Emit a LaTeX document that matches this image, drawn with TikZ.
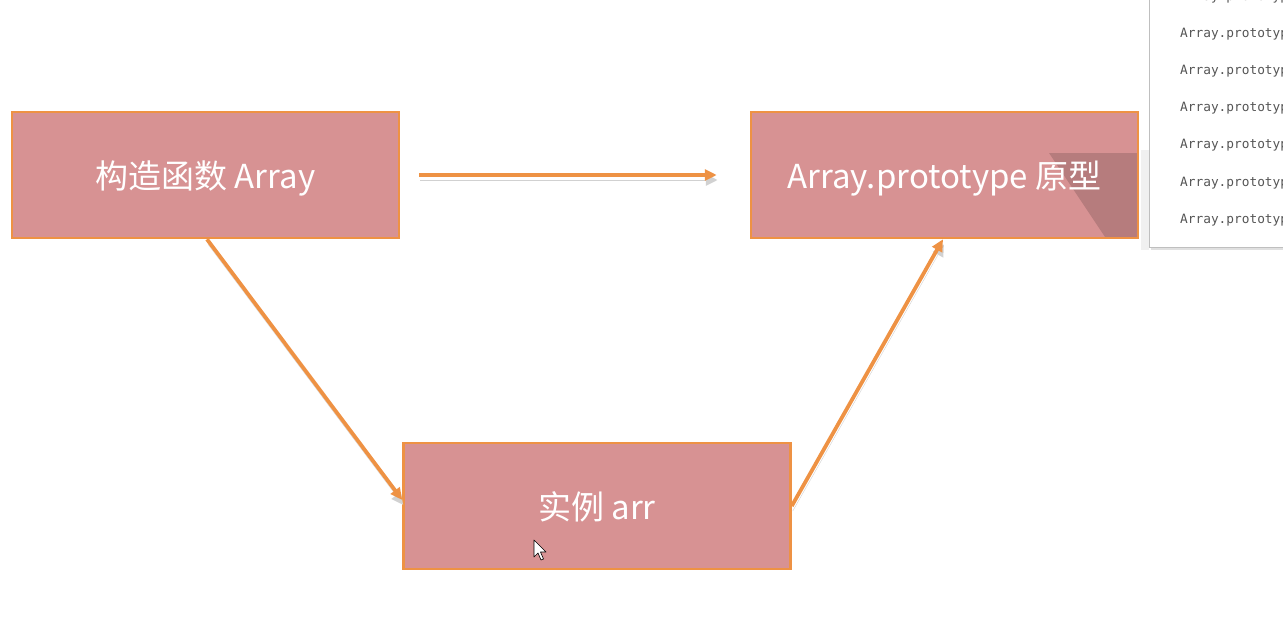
\documentclass[tikz,border=0pt]{standalone}
\usepackage{fontspec}
\newfontfamily\cjk{Noto Sans CJK SC}
\newfontfamily\kode{DejaVu Sans Mono}
\usetikzlibrary{arrows.meta}

\definecolor{kotak}{HTML}{D79293}
\definecolor{jingga}{HTML}{EE9244}
\definecolor{teksabu}{HTML}{555555}

\tikzset{
  kotak/.style={draw=jingga, fill=kotak, line width=2.5pt, minimum width=387pt,
    minimum height=126pt, inner sep=0pt, text=white, text depth=0pt,
    font=\cjk\fontsize{33}{38}\selectfont},
  panah/.style={draw=jingga, line width=3.8pt,
    -{Triangle[length=12pt,width=11pt]},
    preaction={draw=black!18, transform canvas={shift={(1pt,-5pt)}}}},
  kodebaris/.style={anchor=west, inner sep=0pt, text=teksabu,
    font=\kode\fontsize{12.8}{14}\selectfont}
}

\begin{document}
\begin{tikzpicture}[x=1pt, y=-1pt]
\useasboundingbox (0,0) rectangle (1283,632);
\clip (0,0) rectangle (1283,632);

% kotak-kotak
\node[kotak] (konstruktor) at (205.5,175) {构造函数 Array};
\node[kotak, path picture={
    % bayangan jendela di atas kotak prototype
    \fill[black, opacity=0.15]
      ([xshift=-89pt,yshift=-41pt]path picture bounding box.north east)
      -- ([xshift=6pt,yshift=-41pt]path picture bounding box.north east)
      -- ([xshift=6pt,yshift=-134pt]path picture bounding box.north east)
      -- ([xshift=-27pt,yshift=-134pt]path picture bounding box.north east) -- cycle;
  }] (proto) at (944.5,175) {Array.prototype 原型};
\node[kotak] (instans) at (597,506) {实例 arr};
\fill[black, opacity=0.06] (1141,150) rectangle (1149,250);

% panah
\draw[panah] ([xshift=19pt]konstruktor.east) -- ([xshift=-33pt]proto.west);
\draw[panah] ([xshift=1.5pt]konstruktor.south) -- ([yshift=6pt]instans.west);
\draw[panah] (instans.east) -- ([xshift=-1.5pt]proto.south);

% jendela daftar
\fill[black!12] (1151,-5) rectangle (1290,250);
\draw[fill=white, draw=black!25] (1149,-5) rectangle (1290,247);
\foreach \y [count=\i] in {-3,34,71,108,145,183,220} {
  \node[kodebaris] (baris\i) at (1180,\y) {Array.prototype};
}

% kursor
\draw[fill=white, line width=0.6pt, line join=round] (534,540) -- (534,557) -- (538,553)
  -- (541,560) -- (543.5,559) -- (540.5,552) -- (546,552) -- cycle;

\end{tikzpicture}
\end{document}
